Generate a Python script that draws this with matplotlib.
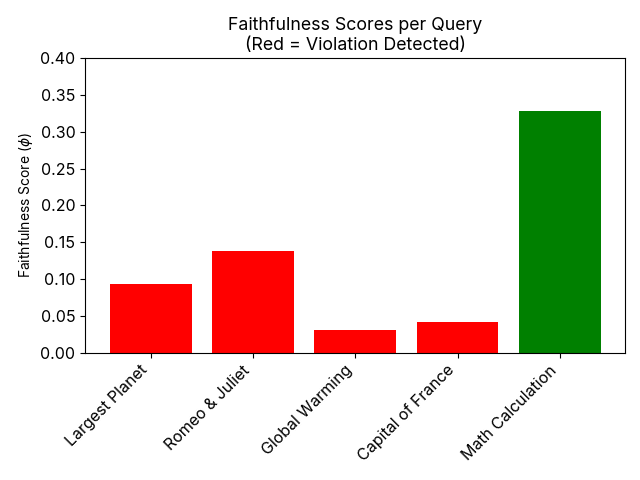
import matplotlib
matplotlib.use("Agg")
import matplotlib.pyplot as plt

plt.rcParams['font.family'] = ['Inter', 'DejaVu Sans']

queries = ["Largest Planet", "Romeo & Juliet", "Global Warming",
           "Capital of France", "Math Calculation"]
scores = [0.0935, 0.138, 0.031, 0.042, 0.328]
colors = ["red", "red", "red", "red", "green"]

fig, ax = plt.subplots(figsize=(6.4, 4.8), dpi=100)
ax.bar(queries, scores, color=colors)
ax.set_title("Faithfulness Scores per Query\n(Red = Violation Detected)", fontsize=12.8)
ax.set_ylabel(r"Faithfulness Score ($\phi$)", fontsize=10)
ax.set_ylim(0, 0.4)
ax.tick_params(labelsize=11.5)
plt.xticks(rotation=45, ha="right")
fig.subplots_adjust(left=0.133, right=0.977, top=0.879, bottom=0.265)
plt.savefig("out.png")
